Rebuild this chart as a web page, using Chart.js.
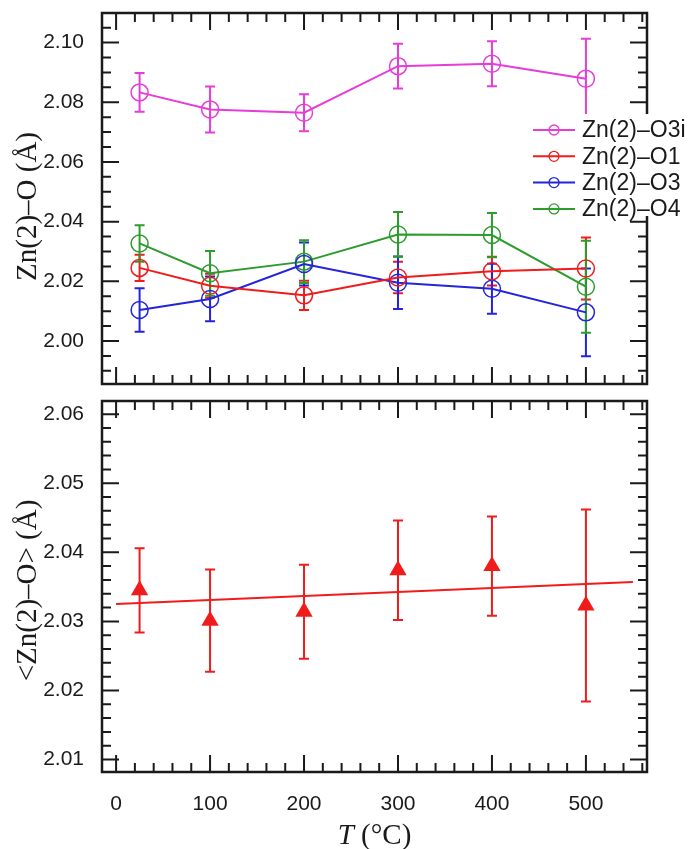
<!DOCTYPE html>
<html><head><meta charset="utf-8">
<script src="https://cdn.jsdelivr.net/npm/chart.js@4.4.0/dist/chart.umd.min.js"></script>
<style>
html,body{margin:0;padding:0;background:#fff;}
#wrap{position:relative;width:690px;height:849px;}
canvas{position:absolute;left:0;top:0;}
</style></head><body>
<div id="wrap"><canvas id="c1" width="690" height="849"></canvas><canvas id="c2" width="690" height="849"></canvas></div>
<script>
// ---- data ----
const temps = [25, 100, 200, 300, 400, 500];
const o3i    = [2.0833, 2.0776, 2.0765, 2.0921, 2.0929, 2.0879];
const o3iErr = [0.0065, 0.0077, 0.0062, 0.0075, 0.0075, 0.0134];
const o1     = [2.0245, 2.0185, 2.0153, 2.0213, 2.0234, 2.0243];
const o1Err  = [0.0044, 0.0040, 0.0049, 0.0053, 0.0048, 0.0104];
const o3     = [2.0104, 2.0141, 2.0258, 2.0195, 2.0175, 2.0096];
const o3Err  = [0.0073, 0.0075, 0.0072, 0.0088, 0.0084, 0.0147];
const o4     = [2.0327, 2.0227, 2.0266, 2.0357, 2.0355, 2.0182];
const o4Err  = [0.0061, 0.0075, 0.0072, 0.0075, 0.0074, 0.0154];
const avg    = [2.0345, 2.0301, 2.0314, 2.0374, 2.0380, 2.0323];
const avgErr = [0.0061, 0.0074, 0.0068, 0.0072, 0.0072, 0.0139];
const fitX = [0, 550];
const fitY = [2.0325, 2.0357];
const seriesLabels = ['Zn(2)\u2013O3i', 'Zn(2)\u2013O1', 'Zn(2)\u2013O3', 'Zn(2)\u2013O4'];
const topTitle = 'Zn(2)\u2013O (\u00C5)';
const bottomTitle = '<Zn(2)\u2013O> (\u00C5)';
const xTitleItalic = 'T';
const xTitleRest = ' (\u00B0C)';

const SANS = '"Liberation Sans", Arial, sans-serif';
const SERIF = '"Liberation Serif", "Times New Roman", serif';
const INK = '#1a1a1a';
const COLORS = ['#e63cd8', '#f01c1c', '#2424dc', '#2c9c2c'];

// ---- plugins ----
const errorBars = {
  id: 'errorBars',
  beforeDatasetsDraw(chart) {
    const ctx = chart.ctx, xs = chart.scales.x, ys = chart.scales.y;
    ctx.save();
    chart.data.datasets.forEach((ds, i) => {
      if (!ds.errors) return;
      ctx.strokeStyle = ds.borderColor; ctx.lineWidth = 2;
      ds.data.forEach((p, j) => {
        const e = ds.errors[j];
        const x = xs.getPixelForValue(p.x);
        const y1 = ys.getPixelForValue(p.y + e), y2 = ys.getPixelForValue(p.y - e);
        ctx.beginPath();
        ctx.moveTo(x, y1); ctx.lineTo(x, y2);
        ctx.moveTo(x - 5, y1); ctx.lineTo(x + 5, y1);
        ctx.moveTo(x - 5, y2); ctx.lineTo(x + 5, y2);
        ctx.stroke();
      });
    });
    ctx.restore();
  }
};

const mod = (k, n) => ((k % n) + n) % n;
const frame = {
  id: 'frame',
  afterDraw(chart, args, o) {
    const ctx = chart.ctx, a = chart.chartArea, xs = chart.scales.x, ys = chart.scales.y;
    ctx.save();
    ctx.strokeStyle = INK; ctx.lineWidth = 2;
    ctx.beginPath();
    const ky0 = Math.ceil(ys.min / o.yStep - 1e-6), ky1 = Math.floor(ys.max / o.yStep + 1e-6);
    for (let k = ky0; k <= ky1; k++) {
      const y = ys.getPixelForValue(k * o.yStep);
      if (y < a.top + 2 || y > a.bottom - 2) continue;
      const L = mod(k, o.yEvery) === 0 ? 17 : 9;
      ctx.moveTo(a.left, y); ctx.lineTo(a.left + L, y);
      ctx.moveTo(a.right, y); ctx.lineTo(a.right - L, y);
    }
    const kx0 = Math.ceil(xs.min / o.xStep - 1e-6), kx1 = Math.floor(xs.max / o.xStep + 1e-6);
    for (let k = kx0; k <= kx1; k++) {
      const x = xs.getPixelForValue(k * o.xStep);
      if (x < a.left + 2 || x > a.right - 2) continue;
      const L = mod(k, o.xEvery) === 0 ? 17 : 9;
      ctx.moveTo(x, a.bottom); ctx.lineTo(x, a.bottom - L);
      ctx.moveTo(x, a.top); ctx.lineTo(x, a.top + L);
    }
    ctx.stroke();
    ctx.lineWidth = 2.5;
    ctx.strokeRect(a.left, a.top, a.right - a.left, a.bottom - a.top);
    // y title
    ctx.fillStyle = INK;
    ctx.font = '29px ' + SERIF;
    ctx.textAlign = 'center'; ctx.textBaseline = 'middle';
    ctx.save();
    ctx.translate(o.titleX, (a.top + a.bottom) / 2 + o.titleDy);
    ctx.rotate(-Math.PI / 2);
    ctx.fillText(o.title, 0, 0);
    ctx.restore();
    if (o.xTitle) {
      ctx.textAlign = 'left'; ctx.textBaseline = 'alphabetic';
      const fi = 'italic 29px ' + SERIF, fr = '29px ' + SERIF;
      ctx.font = fi; const w1 = ctx.measureText(xTitleItalic).width;
      ctx.font = fr; const w2 = ctx.measureText(xTitleRest).width;
      const cx = (a.left + a.right) / 2, x0 = cx - (w1 + w2) / 2;
      ctx.font = fi; ctx.fillText(xTitleItalic, x0, o.xTitleY);
      ctx.font = fr; ctx.fillText(xTitleRest, x0 + w1, o.xTitleY);
    }
    ctx.restore();
  }
};

const legendBox = {
  id: 'legendBox',
  afterDraw(chart) {
    const ctx = chart.ctx;
    ctx.save();
    ctx.fillStyle = '#fff';
    ctx.fillRect(528, 114, 162, 102);
    ctx.font = '23px ' + SANS; ctx.textBaseline = 'middle'; ctx.textAlign = 'left';
    chart.data.datasets.forEach((ds, i) => {
      const y = 130 + i * 26.3;
      ctx.strokeStyle = ds.borderColor; ctx.lineWidth = 2;
      ctx.beginPath(); ctx.moveTo(533, y); ctx.lineTo(575, y); ctx.stroke();
      ctx.lineWidth = 1.3;
      ctx.beginPath(); ctx.arc(554, y, 5, 0, Math.PI * 2); ctx.stroke();
      ctx.fillStyle = INK; ctx.fillText(ds.label, 582, y + 1);
    });
    ctx.restore();
  }
};

function circleSeries(label, vals, errs, color) {
  return {
    label, data: temps.map((t, i) => ({x: t, y: vals[i]})), errors: errs,
    borderColor: color, backgroundColor: 'rgba(0,0,0,0)', borderWidth: 2,
    pointRadius: 8.5, pointBorderWidth: 1.5, pointStyle: 'circle',
    pointBackgroundColor: 'rgba(0,0,0,0)', pointBorderColor: color, tension: 0, fill: false
  };
}

const tickFont = {family: SANS, size: 21};
const fixW = s => { s.width = 102; s.paddingTop = 0; s.paddingBottom = 0; };

new Chart(document.getElementById('c1'), {
  type: 'line',
  data: { datasets: [
    circleSeries(seriesLabels[0], o3i, o3iErr, COLORS[0]),
    circleSeries(seriesLabels[1], o1, o1Err, COLORS[1]),
    circleSeries(seriesLabels[2], o3, o3Err, COLORS[2]),
    circleSeries(seriesLabels[3], o4, o4Err, COLORS[3])
  ]},
  options: {
    responsive: false, animation: false, devicePixelRatio: 1,
    layout: { padding: { top: 13, bottom: 465, left: 0, right: 43 } },
    plugins: { legend: { display: false }, tooltip: { enabled: false },
      frame: { yStep: 0.005, yEvery: 4, xStep: 20, xEvery: 5, title: topTitle, titleX: 28, titleDy: 8 } },
    scales: {
      x: { type: 'linear', min: -15, max: 565, display: false },
      y: { type: 'linear', min: 1.9856, max: 2.1099, afterFit: fixW,
        grid: { display: false }, border: { display: false },
        ticks: { stepSize: 0.02, includeBounds: false, padding: 10, color: INK, font: tickFont,
          callback: v => v.toFixed(2) } }
    }
  },
  plugins: [errorBars, frame, legendBox]
});

new Chart(document.getElementById('c2'), {
  type: 'line',
  data: { datasets: [
    { label: 'avg', data: temps.map((t, i) => ({x: t, y: avg[i]})), errors: avgErr,
      borderColor: COLORS[1], backgroundColor: COLORS[1], showLine: false,
      pointStyle: 'triangle', pointRadius: 10, pointBorderWidth: 0, pointBackgroundColor: COLORS[1] },
    { label: 'fit', data: fitX.map((t, i) => ({x: t, y: fitY[i]})),
      borderColor: COLORS[1], borderWidth: 2, pointRadius: 0, fill: false, tension: 0 }
  ]},
  options: {
    responsive: false, animation: false, devicePixelRatio: 1,
    layout: { padding: { top: 401, bottom: 0, left: 0, right: 43 } },
    plugins: { legend: { display: false }, tooltip: { enabled: false },
      frame: { yStep: 0.002, yEvery: 5, xStep: 20, xEvery: 5, title: bottomTitle, titleX: 28, titleDy: 4,
        xTitle: true, xTitleY: 844 } },
    scales: {
      x: { type: 'linear', min: -15, max: 565,
        afterFit: s => { s.height = 77; s.paddingLeft = 0; s.paddingRight = 0; },
        grid: { display: false }, border: { display: false },
        ticks: { stepSize: 100, includeBounds: false, padding: 12, color: INK, font: tickFont,
          maxRotation: 0, callback: v => String(v) } },
      y: { type: 'linear', min: 2.0082, max: 2.0619, afterFit: fixW,
        grid: { display: false }, border: { display: false },
        ticks: { stepSize: 0.01, includeBounds: false, padding: 10, color: INK, font: tickFont,
          callback: v => v.toFixed(2) } }
    }
  },
  plugins: [errorBars, frame]
});
</script>
</body></html>
